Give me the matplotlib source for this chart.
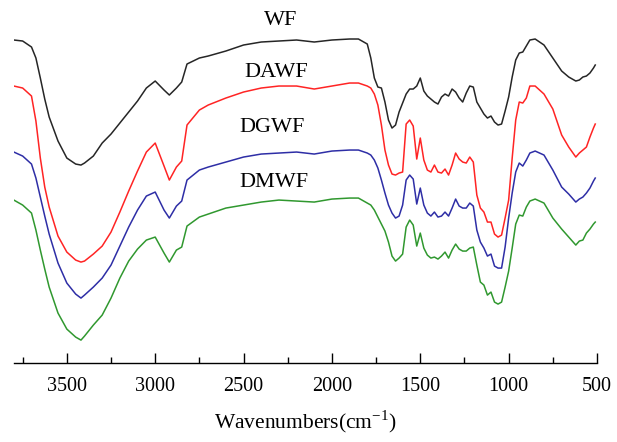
import numpy as np
import matplotlib
matplotlib.use("Agg")
import matplotlib.pyplot as plt
from matplotlib.ticker import MultipleLocator

plt.rcParams['font.family'] = ['Liberation Serif', 'DejaVu Serif']
plt.rcParams['mathtext.fontset'] = 'custom'
plt.rcParams['mathtext.rm'] = 'Liberation Serif'

# numero de onda (cm-1) comun a todos os espectros
wavenumber = [3800, 3750, 3700, 3675, 3650, 3625, 3600, 3550, 3500, 3450,
              3420, 3400, 3350, 3300, 3250, 3200, 3150, 3100, 3050, 3000,
              2950, 2920, 2880, 2850, 2820, 2750, 2700, 2600, 2500, 2400,
              2300, 2200, 2100, 2000, 1900, 1850, 1800, 1780, 1760, 1740,
              1720, 1700, 1680, 1660, 1640, 1620, 1600, 1580, 1560, 1540,
              1520, 1500, 1480, 1460, 1440, 1420, 1400, 1380, 1360, 1340,
              1320, 1300, 1280, 1260, 1240, 1220, 1200, 1180, 1160, 1140,
              1120, 1100, 1080, 1060, 1040, 1020, 1000, 980, 960, 940,
              920, 900, 880, 850, 800, 750, 700, 660, 620, 600,
              580, 560, 540, 520, 510]

# transmitancia (u.a.), cada espectro xa desprazado en vertical
wf = [360, 359, 353, 342, 322, 301, 283, 259, 242, 236,
      235, 237, 244, 257, 266, 277, 288, 299, 312, 319,
      310, 305, 312, 318, 336, 342, 344, 349, 355, 358,
      359, 360, 358, 360, 361, 361, 356, 342, 322, 313,
      312, 298, 280, 272, 275, 288, 297, 306, 311, 311,
      314, 322, 309, 304, 301, 298, 296, 303, 306, 304,
      311, 308, 302, 298, 307, 314, 313, 298, 292, 286,
      282, 284, 278, 275, 276, 289, 303, 323, 340, 347,
      348, 354, 360, 361, 355, 342, 329, 323, 319, 320,
      323, 324, 327, 332, 335]

dawf = [314, 312, 304, 279, 242, 213, 193, 164, 148, 140,
        138, 139, 146, 154, 168, 188, 209, 229, 248, 257,
        234, 220, 233, 239, 275, 290, 295, 302, 308, 312,
        314, 314, 311, 314, 317, 317, 314, 312, 306, 295,
        275, 250, 235, 226, 225, 227, 228, 276, 280, 274,
        241, 262, 240, 230, 228, 235, 228, 227, 231, 225,
        235, 247, 241, 238, 237, 243, 238, 205, 192, 188,
        178, 178, 166, 163, 165, 182, 200, 242, 280, 298,
        297, 302, 314, 314, 306, 291, 265, 253, 243, 247,
        250, 253, 263, 272, 276]

dgwf = [248, 244, 236, 222, 203, 184, 166, 137, 117, 106,
        102, 105, 113, 122, 135, 154, 173, 190, 204, 208,
        190, 182, 194, 199, 220, 230, 233, 238, 243, 246,
        247, 248, 246, 249, 250, 250, 247, 245, 240, 232,
        220, 207, 195, 187, 182, 184, 195, 220, 225, 221,
        196, 212, 195, 187, 184, 188, 183, 184, 188, 184,
        192, 201, 194, 192, 192, 197, 194, 170, 158, 152,
        144, 146, 134, 132, 132, 153, 182, 207, 228, 237,
        234, 240, 247, 249, 245, 230, 213, 206, 198, 201,
        203, 207, 212, 219, 222]

dmwf = [200, 195, 187, 170, 150, 131, 113, 87, 71, 63,
        60, 64, 75, 85, 102, 122, 139, 151, 160, 163,
        147, 138, 150, 153, 174, 183, 186, 192, 195, 198,
        200, 199, 198, 201, 202, 202, 197, 195, 190, 183,
        176, 169, 158, 144, 139, 142, 146, 173, 180, 175,
        154, 167, 152, 145, 142, 143, 141, 144, 148, 142,
        150, 156, 151, 149, 149, 152, 153, 135, 118, 115,
        105, 108, 98, 96, 98, 113, 129, 152, 176, 185,
        184, 193, 199, 201, 197, 182, 171, 163, 155, 159,
        160, 167, 171, 176, 178]

names = ['WF', 'DAWF', 'DGWF', 'DMWF']
colors = ['#262626', '#ff2424', '#2e2ea6', '#30982f']
# posicion das etiquetas (cm-1, u.a.)
label_x = [2290, 2313, 2336, 2330]
label_y = [380, 328, 273, 218]

fig = plt.figure(figsize=(6.17, 4.42), dpi=100)
ax = fig.add_axes([0.0224, 0.1785, 0.9452, 0.8215])

for serie, cor in zip([wf, dawf, dgwf, dmwf], colors):
    ax.plot(wavenumber, serie, color=cor, lw=1.1)

for nome, tx, ty in zip(names, label_x, label_y):
    ax.text(tx, ty, nome, fontsize=16, ha='center', va='center')

ax.set_xlim(3800, 500)
ax.set_ylim(37, 400)

# so o eixo inferior, con marcas cara dentro
for lado in ['left', 'right', 'top']:
    ax.spines[lado].set_visible(False)
ax.spines['bottom'].set_linewidth(1.0)
ax.set_yticks([])
ax.xaxis.set_major_locator(MultipleLocator(500))
ax.xaxis.set_minor_locator(MultipleLocator(250))
ax.tick_params(axis='x', which='major', direction='in', length=7, width=1.0,
               labelsize=14.5, pad=10)
ax.tick_params(axis='x', which='minor', direction='in', length=4, width=1.0)
ax.set_xlabel(r'Wavenumbers(cm$^{\mathregular{-1}}$)', fontsize=15.5, labelpad=9)

fig.savefig('out.png', dpi=100)
